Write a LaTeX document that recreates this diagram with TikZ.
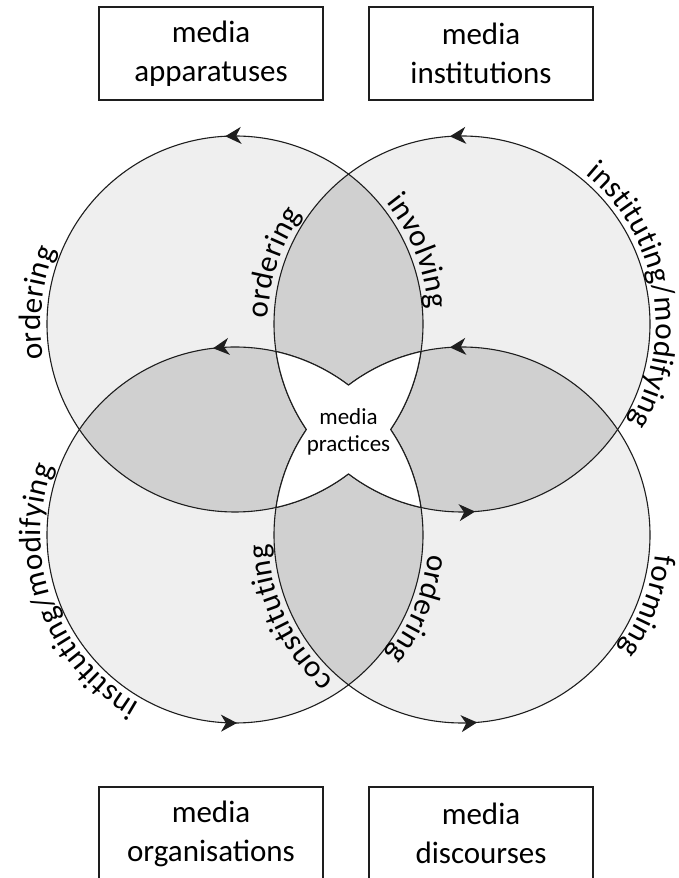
\documentclass[tikz,border=0pt]{standalone}
\usepackage{fontspec}
\setmainfont{Carlito}
\usetikzlibrary{decorations.text,decorations.markings,arrows.meta}
\definecolor{lightfill}{RGB}{239,239,239}
\definecolor{darkfill}{RGB}{208,208,208}
\definecolor{linec}{RGB}{30,30,30}
\newcommand\lblfont{\fontsize{31}{37}\selectfont}
\begin{document}
\begin{tikzpicture}[x=1pt,y=1pt,
  ring/.style={draw=linec, line width=1.1pt, line join=round},
  boxnode/.style={draw=linec, line width=1.4pt, minimum width=224pt, minimum height=93pt,
    align=center, font=\fontsize{31}{39}\selectfont, inner sep=0pt},
  lbl/.style={decorate, decoration={text along path, text align=center, raise=6pt,
    text={|\lblfont|#1}}},
  >={Stealth[length=16pt,width=17pt,inset=5pt]}
]
\useasboundingbox (0,0) rectangle (678,878);
\fill[white] (0,0) rectangle (678,878);
\clip (0,0) rectangle (678,878);

\coordinate (C)  at (348.5,448.5);
\coordinate (TL) at (235,554);
\coordinate (TR) at (462,554);
\coordinate (BL) at (235,343);
\coordinate (BR) at (462,343);

% single coverage
\foreach \c in {TL,TR,BL,BR} \fill[lightfill] (\c) circle[radius=188];
% double coverage
\foreach \a/\b in {TL/TR,TL/BL,TL/BR,TR/BL,TR/BR,BL/BR}{
  \begin{scope}
    \clip (\a) circle[radius=188];
    \fill[darkfill] (\b) circle[radius=188];
  \end{scope}
}

% circle outlines with arrows
\draw[ring, postaction={decorate}, decoration={markings,
  mark=at position 0.2583 with {\arrow{>}}}] (TL) circle[radius=188];
\draw[ring, postaction={decorate}, decoration={markings,
  mark=at position 0.2603 with {\arrow{>}},
  mark=at position 0.7611 with {\arrow{>}}}] (TR) circle[radius=188];
\draw[ring, postaction={decorate}, decoration={markings,
  mark=at position 0.2686 with {\arrow{>}},
  mark=at position 0.7517 with {\arrow{>}}}] (BL) circle[radius=188];
\draw[ring, postaction={decorate}, decoration={markings,
  mark=at position 0.2603 with {\arrow{>}},
  mark=at position 0.7628 with {\arrow{>}}}] (BR) circle[radius=188];

% central star (three or more overlaps)
\filldraw[ring, fill=white] ([shift={(-72.47,77.97)}]C)
  arc[start angle=77.39, end angle=52.86, radius=188]
  arc[start angle=127.14, end angle=102.61, radius=188]
  arc[start angle=-8.42, end angle=-34.14, radius=188]
  arc[start angle=34.14, end angle=8.42, radius=188]
  arc[start angle=-102.61, end angle=-127.14, radius=188]
  arc[start angle=-52.86, end angle=-77.39, radius=188]
  arc[start angle=171.58, end angle=145.86, radius=188]
  arc[start angle=214.14, end angle=188.42, radius=188] -- cycle;

\node[font=\fontsize{23}{27}\selectfont, align=center, inner sep=0pt] (prac) at (348.5,446) {media\\practices};

% labels along circles
\path[lbl=ordering] ([shift={(244:188)}]TL) arc[start angle=244, end angle=104, radius=188];
\path[lbl=ordering] ([shift={(232:188)}]TR) arc[start angle=232, end angle=92, radius=188];
\path[lbl=involving] ([shift={(91.6:188)}]TL) arc[start angle=91.6, end angle=-48.4, radius=188];
\path[lbl=instituting/modifying] ([shift={(100:188)}]TR) arc[start angle=100, end angle=-80, radius=188];
\path[lbl=instituting/modifying] ([shift={(290:188)}]BL) arc[start angle=290, end angle=110, radius=188];
\path[lbl=constituting] ([shift={(275.6:188)}]BR) arc[start angle=275.6, end angle=135.6, radius=188];
\path[lbl=ordering] ([shift={(48:188)}]BL) arc[start angle=48, end angle=-92, radius=188];
\path[lbl=forming] ([shift={(49:188)}]BR) arc[start angle=49, end angle=-91, radius=188];

% boxes
\node[boxnode] (app)  at (211,824.5) {media\\apparatuses};
\node[boxnode] (inst) at (481,824.5) {media\\institutions};
\node[boxnode] (org)  at (211,44.5) {media\\organisations};
\node[boxnode] (disc) at (481,44.5) {media\\discourses};
\end{tikzpicture}
\end{document}
